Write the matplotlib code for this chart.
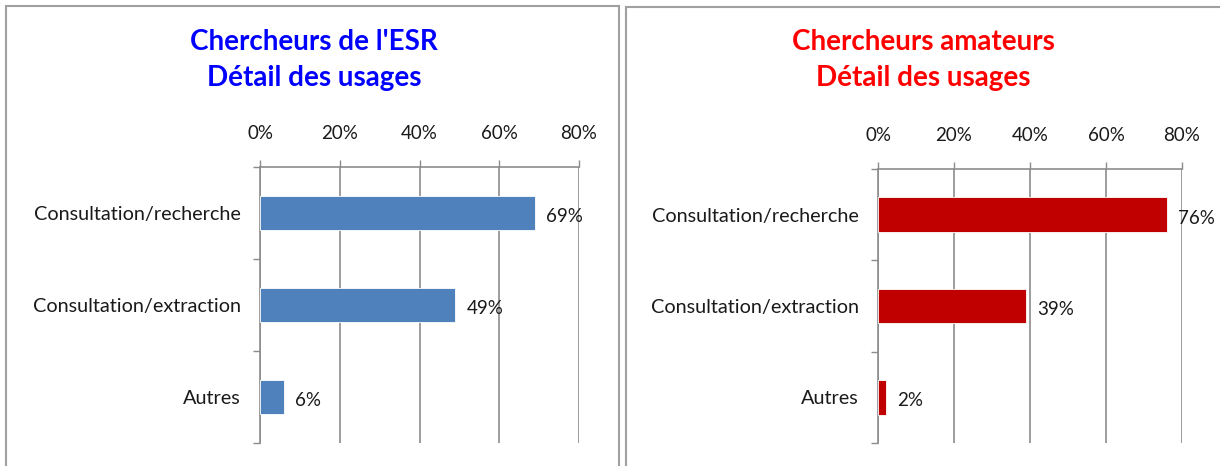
import matplotlib
matplotlib.use('Agg')
import matplotlib.pyplot as plt
from matplotlib.patches import Rectangle
from matplotlib.ticker import FixedLocator, FuncFormatter

plt.rcParams['font.family'] = ['Lato', 'DejaVu Sans']

categories = ['Consultation/recherche', 'Consultation/extraction', 'Autres']
esr_values = [69, 49, 6]
amateur_values = [76, 39, 2]
ticks = [0, 20, 40, 60, 80]

W, H = 1220, 466
fig = plt.figure(figsize=(W / 100, H / 100), dpi=100)


def px(x0, y0, x1, y1):
    # pixel box (top-left origin) -> figure fraction rect
    return [x0 / W, 1 - y1 / H, (x1 - x0) / W, (y1 - y0) / H]


# panel frames
for x0, y0, x1, y1 in [(6, 6, 619, 470), (626, 7, 1224, 470)]:
    r = px(x0, y0, x1, y1)
    fig.add_artist(Rectangle((r[0], r[1]), r[2], r[3], transform=fig.transFigure,
                             fill=False, edgecolor='#a0a0a0', linewidth=1.5))


def panel(rect, values, color, title, title_color, title_x):
    ax = fig.add_axes(px(*rect))
    y = range(len(categories))
    ax.barh(y, values, height=0.38, color=color, edgecolor='white', linewidth=0.6, zorder=3)
    for i, v in enumerate(values):
        ax.annotate(f'{v}%', (v, i + 0.04), xytext=(8, 0), textcoords='offset points',
                    va='center', ha='left', fontsize=13.5, color='#1a1a1a')
    ax.set_xlim(0, 80)
    ax.set_ylim(2.5, -0.5)
    ax.xaxis.tick_top()
    ax.set_xticks(ticks)
    ax.xaxis.set_major_formatter(FuncFormatter(lambda v, p: f'{int(v)}%'))
    ax.tick_params(axis='x', length=5, width=1, color='#8c8c8c', pad=13,
                   labelsize=13.5, labelcolor='#1a1a1a')
    ax.grid(axis='x', color='#8c8c8c', linewidth=1.2, zorder=0)
    ax.set_yticks(list(y))
    ax.set_yticklabels(categories, fontsize=14.3, color='#1a1a1a')
    ax.tick_params(axis='y', which='major', length=0, pad=14)
    ax.yaxis.set_minor_locator(FixedLocator([-0.5, 0.5, 1.5, 2.5]))
    ax.tick_params(axis='y', which='minor', length=5, width=1, color='#8c8c8c')
    for s in ['right', 'bottom']:
        ax.spines[s].set_visible(False)
    for s in ['left', 'top']:
        ax.spines[s].set_color('#8c8c8c')
        ax.spines[s].set_linewidth(1.2)
    fig.text(title_x / W, 1 - 60 / H, title, ha='center', va='center',
             fontsize=20, fontweight='bold', color=title_color, linespacing=1.45)
    return ax


panel((260, 167, 579, 443), esr_values, '#4F81BD',
      "Chercheurs de l'ESR\nDétail des usages", '#0000FF', 314)
panel((878, 169, 1182, 443), amateur_values, '#C00000',
      'Chercheurs amateurs\nDétail des usages', '#FF0000', 923)

fig.savefig('out.png', dpi=100)
